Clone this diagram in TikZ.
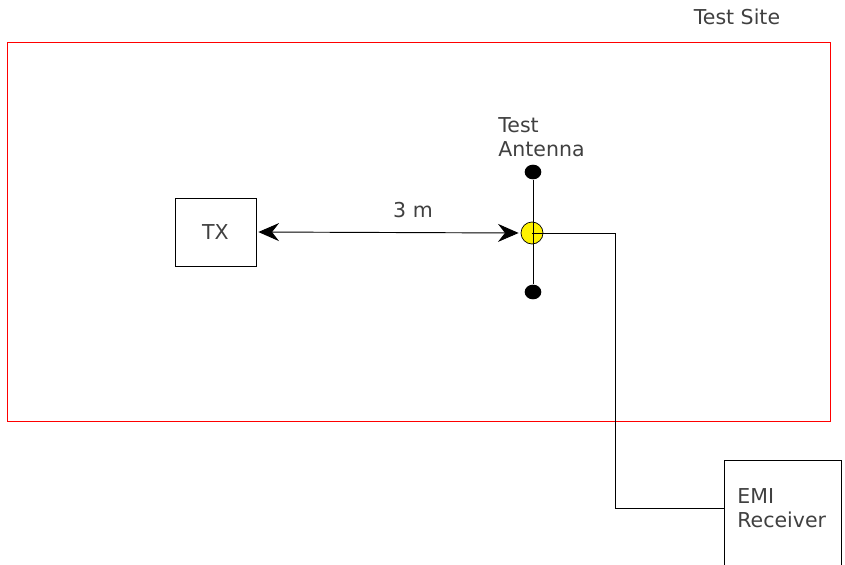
\documentclass[tikz,border=0pt]{standalone}
\usepackage{fontspec}
\setmainfont{DejaVu Sans}
\usepackage{tikz}
\usetikzlibrary{arrows.meta,calc,positioning,shapes.geometric}

\begin{document}
\begin{tikzpicture}[x=0.3mm,y=-0.3mm,line width=0.6pt,
    lbl/.style={font=\fontsize{17.5}{21}\selectfont,text=black!75,inner sep=0pt},
    box/.style={draw,inner sep=0pt},
    dot/.style={ellipse,fill=black,inner sep=0pt,minimum width=5mm,minimum height=4.4mm},
    span/.style={line width=0.8pt,arrows={Stealth[length=6.2mm,width=5.4mm,inset=2.1mm]-Stealth[length=6.2mm,width=5.4mm,inset=2.1mm]}}]
    \clip (0,0) rectangle (845,565);
    % test site
    \draw[red] (7,42) rectangle (830,421);
    \node[lbl] (site) at (737,17) {Test Site};
    % transmitter
    \node[box,lbl,minimum width=24.3mm,minimum height=20.4mm] (tx) at (215.5,232) {TX};
    % antenna
    \node[circle,draw,fill=yellow,inner sep=0pt,minimum size=6.6mm] (ant) at (532,233) {};
    \node[dot] (top) at (533,172) {};
    \node[dot] (bot) at (533,292) {};
    \draw (top) -- (bot);
    \node[lbl,align=left,anchor=west] (antlbl) at (498,137) {Test\\Antenna};
    % distance
    \draw[span,shorten <=0.6mm,shorten >=0.6mm] (tx.east) -- (ant.west);
    \node[lbl] (dist) at (413,210) {3 m};
    % receiver
    \node[box,anchor=north west,minimum width=35.1mm,minimum height=45mm] (rx) at (724,460) {};
    \node[lbl,align=left,anchor=north west] (rxlbl) at (737,488) {EMI\\Receiver};
    \coordinate (bend) at (615,508);
    \draw (ant.center) -| (bend) -- (bend -| rx.west);
\end{tikzpicture}
\end{document}
